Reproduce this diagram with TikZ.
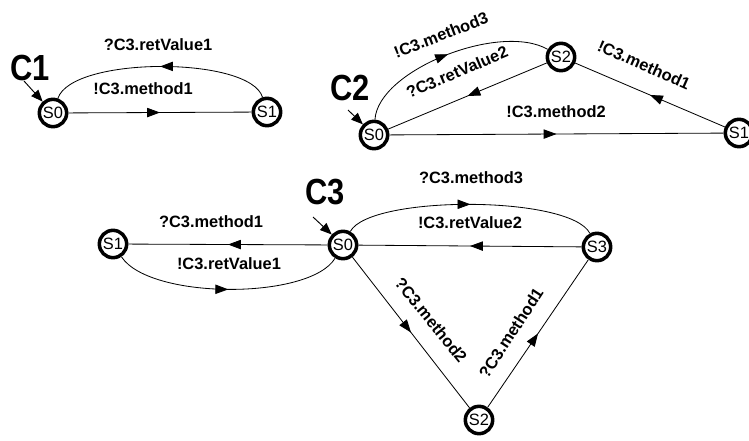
\documentclass[tikz,border=0pt]{standalone}
\usepackage{fontspec}
\setmainfont{Liberation Sans}
\usetikzlibrary{arrows.meta}
\usetikzlibrary{decorations.markings}
\tikzset{%
	state/.style={circle,draw,line width=3pt,minimum size=0.82cm,inner sep=0pt,font=\fontsize{14}{14}\selectfont}
}
\tikzset{%
	trans/.style={line width=0.7pt,decoration={markings,mark=at position 0.5 with {\arrow{Triangle[length=11pt,width=8pt]}}},postaction={decorate}}
}
\tikzset{%
	lbl/.style={font=\fontsize{14}{14}\selectfont\bfseries,inner sep=1pt}
}
\tikzset{%
	comp/.style={font=\fontsize{31}{31}\selectfont\bfseries,xscale=0.85,inner sep=0pt}
}
\tikzset{%
	initarrow/.style={line width=0.8pt,-{Triangle[length=10pt,width=8pt]}}
}
\begin{document}
\begin{tikzpicture}[x=0.03cm,y=-0.03cm]
		\useasboundingbox (0,0) rectangle (749,440);

		%C1
		\node [comp] (c1) at (30,68) {C1};
		\node [state] (c1s0) at (53,113) {S0};
		\node [state] (c1s1) at (267,112) {S1};
		\coordinate (c1init) at (24,81);
		\draw [initarrow] (c1init) -- (c1s0);
		\draw [trans] (c1s0) -- (c1s1);
		\draw [trans] (c1s1) .. controls (250,56) and (72,56) .. (c1s0);
		\node [lbl] at (158,45) {?C3.retValue1};
		\node [lbl] at (143,89) {!C3.method1};

		%C2
		\node [comp] (c2) at (350,88) {C2};
		\node [state] (c2s0) at (374,135) {S0};
		\node [state] (c2s2) at (561,57) {S2};
		\node [state] (c2s1) at (739,133) {S1};
		\coordinate (c2init) at (348,110);
		\draw [initarrow] (c2init) -- (c2s0);
		\draw [trans] (c2s0) .. controls (378,70) and (500,22) .. (c2s2);
		\draw [trans] (c2s2) -- (c2s0);
		\draw [trans] (c2s1) -- (c2s2);
		\draw [trans] (c2s0) -- (c2s1);
		\node [lbl,rotate=21] at (441,35) {!C3.method3};
		\node [lbl,rotate=23] at (457,72) {?C3.retValue2};
		\node [lbl,rotate=-24] at (644,65) {!C3.method1};
		\node [lbl] at (556,112) {!C3.method2};

		%C3
		\node [comp] (c3) at (325,192) {C3};
		\node [state] (c3s0) at (343,245) {S0};
		\node [state] (c3s1) at (113,244) {S1};
		\node [state] (c3s3) at (597,247) {S3};
		\node [state] (c3s2) at (479,420) {S2};
		\coordinate (c3init) at (313,217);
		\draw [initarrow] (c3init) -- (c3s0);
		\draw [trans] (c3s0) -- (c3s1);
		\draw [trans] (c3s1) .. controls (150,300) and (310,300) .. (c3s0);
		\draw [trans] (c3s0) .. controls (370,195) and (570,195) .. (c3s3);
		\draw [trans] (c3s3) -- (c3s0);
		\draw [trans] (c3s0) -- (c3s2);
		\draw [trans] (c3s2) -- (c3s3);
		\node [lbl] at (211,222) {?C3.method1};
		\node [lbl] at (229,264) {!C3.retValue1};
		\node [lbl] at (471,178) {?C3.method3};
		\node [lbl] at (470,223) {!C3.retValue2};
		\node [lbl,rotate=-51] at (431,320) {?C3.method2};
		\node [lbl,rotate=57] at (511,333) {?C3.method1};

	\end{tikzpicture}
\end{document}
